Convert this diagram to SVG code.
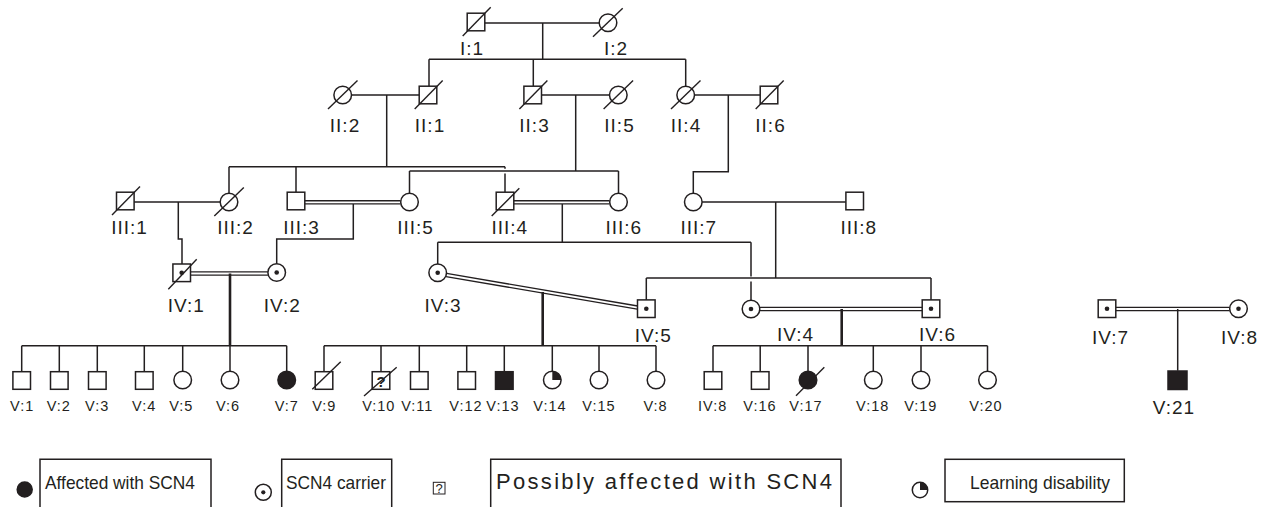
<svg xmlns="http://www.w3.org/2000/svg" width="1261" height="507" viewBox="0 0 1261 507">
<style>
.ln{stroke:#231f20;stroke-width:1.5;fill:none}
.tk{stroke:#231f20;stroke-width:2.6;fill:none}
.dbl{stroke:#231f20;stroke-width:4.6;fill:none}
.dblw{stroke:#fff;stroke-width:1.8;fill:none}
.sh{stroke:#231f20;stroke-width:1.5;fill:#fff}
.af{stroke:#231f20;stroke-width:1.5;fill:#231f20}
.dot{fill:#231f20}
.sl{stroke:#231f20;stroke-width:1.4}
.g{font-family:"Liberation Sans",Arial,sans-serif;font-size:19px;letter-spacing:1px;fill:#231f20;text-anchor:middle}
.v{font-family:"Liberation Sans",Arial,sans-serif;font-size:14.5px;letter-spacing:1px;fill:#231f20;text-anchor:middle}
.lg{font-family:"Liberation Sans",Arial,sans-serif;font-size:19px;fill:#231f20}
</style>
<defs>
<rect id="sq" x="-8.8" y="-8.8" width="17.6" height="17.6"/>
<circle id="ci" r="8.8"/>
</defs>

<g id="connectors">
<path class="ln" d="M485,23H599 M542.7,23V59.3 M429,59.3H685.7 M429,59.3V86 M533.3,59.3V86 M685.7,59.3V86"/>
<path class="ln" d="M351.5,95H419.3 M386.7,95V166.7 M541.5,95H609.5 M575.7,95V171 M694.5,95H760.3 M728.3,95V171.7H693.3V193"/>
<path class="ln" d="M229,166.7H505 M229,166.7V193 M296,166.7V192.3 M505,166.7V168.8 M505,173.4V192.3"/>
<path class="ln" d="M409.5,171H618.5 M409.5,171V193 M618.5,171V193"/>
<path class="ln" d="M134,202H220 M178.3,202V239H182V264"/>
<line class="dbl" x1="304.8" y1="202.3" x2="400.7" y2="202.3"/><line class="dblw" x1="304.8" y1="202.3" x2="400.7" y2="202.3"/>
<path class="ln" d="M353.3,204V239H276.7V263.7"/>
<line class="dbl" x1="513.8" y1="202.3" x2="609.7" y2="202.3"/><line class="dblw" x1="513.8" y1="202.3" x2="609.7" y2="202.3"/>
<path class="ln" d="M562.3,204V242.3 M437.7,242.3H751 M437.7,242.3V263.9 M751,242.3V276.5 M751,281.5V300.2"/>
<path class="ln" d="M702.1,202H845.9 M775.7,202V278 M646.3,278H931 M646.3,278V299.9 M931,278V299.9"/>
<line class="dbl" x1="190.5" y1="273.5" x2="267.9" y2="273.5"/><line class="dblw" x1="190.5" y1="273.5" x2="267.9" y2="273.5"/>
<path class="tk" d="M230,273.5V345.7"/>
<line class="dbl" x1="446.3" y1="275" x2="637.5" y2="307.6"/><line class="dblw" x1="446.3" y1="275" x2="637.5" y2="307.6"/>
<path class="tk" d="M542.7,292V345.7"/>
<line class="dbl" x1="759.8" y1="309" x2="922.2" y2="309"/><line class="dblw" x1="759.8" y1="309" x2="922.2" y2="309"/>
<path class="tk" d="M841.7,309V345.7"/>
<line class="dbl" x1="1115.8" y1="309" x2="1229.7" y2="309"/><line class="dblw" x1="1115.8" y1="309" x2="1229.7" y2="309"/>
<path class="ln" d="M1177.7,309V370.7"/>
<path class="ln" d="M21.7,345.7H286.7 M21.7,345.7V371.2 M59.3,345.7V371.2 M97.3,345.7V371.2 M144.3,345.7V371.2 M182.7,345.7V371.2 M230,345.7V371.2 M286.7,345.7V371.2"/>
<path class="ln" d="M324,345.7H656 M324,345.7V371.2 M381,345.7V371.2 M419.3,345.7V371.2 M466.7,345.7V371.2 M504.3,345.7V371.2 M552.3,345.7V371.2 M599,345.7V371.2 M656,345.7V371.2"/>
<path class="ln" d="M713,345.7H987.5 M713,345.7V371.2 M760.2,345.7V371.2 M808,345.7V371.2 M873.3,345.7V371.2 M921,345.7V371.2 M987.5,345.7V371.2"/>
</g>

<g id="I1"><use href="#sq" class="sh" x="476" y="22"/><line class="sl" x1="462.7" y1="36" x2="490.7" y2="7.3"/><text class="g" x="472" y="55">I:1</text></g>
<g id="I2"><use href="#ci" class="sh" x="608" y="22.7"/><line class="sl" x1="593" y1="36.7" x2="622.7" y2="8.3"/><text class="g" x="616" y="55">I:2</text></g>

<g id="II2"><use href="#ci" class="sh" x="342.7" y="95"/><line class="sl" x1="328" y1="109" x2="357.5" y2="80.5"/><text class="g" x="345" y="132">II:2</text></g>
<g id="II1"><use href="#sq" class="sh" x="428" y="95"/><line class="sl" x1="414.7" y1="109" x2="442.7" y2="80.5"/><text class="g" x="430" y="132">II:1</text></g>
<g id="II3"><use href="#sq" class="sh" x="532.7" y="95"/><line class="sl" x1="519.4" y1="109" x2="547.4" y2="80.5"/><text class="g" x="534.5" y="132">II:3</text></g>
<g id="II5"><use href="#ci" class="sh" x="618.3" y="95"/><line class="sl" x1="603.6" y1="109" x2="633.1" y2="80.5"/><text class="g" x="619.5" y="132">II:5</text></g>
<g id="II4"><use href="#ci" class="sh" x="685.7" y="95"/><line class="sl" x1="671" y1="109" x2="700.5" y2="80.5"/><text class="g" x="686" y="132">II:4</text></g>
<g id="II6"><use href="#sq" class="sh" x="769" y="95"/><line class="sl" x1="755.7" y1="109" x2="783.7" y2="80.5"/><text class="g" x="770.5" y="132">II:6</text></g>

<g id="III1"><use href="#sq" class="sh" x="125.3" y="201"/><line class="sl" x1="112" y1="215" x2="140" y2="186.5"/><text class="g" x="129.5" y="234">III:1</text></g>
<g id="III2"><use href="#ci" class="sh" x="229" y="202"/><line class="sl" x1="214.3" y1="216" x2="243.8" y2="187.5"/><text class="g" x="235.5" y="234">III:2</text></g>
<g id="III3"><use href="#sq" class="sh" x="296" y="201"/><text class="g" x="301.5" y="234">III:3</text></g>
<g id="III5"><use href="#ci" class="sh" x="409.5" y="202"/><text class="g" x="415.5" y="234">III:5</text></g>
<g id="III4"><use href="#sq" class="sh" x="505" y="201"/><line class="sl" x1="491.7" y1="216" x2="519.3" y2="188.3"/><text class="g" x="509.8" y="234">III:4</text></g>
<g id="III6"><use href="#ci" class="sh" x="618.5" y="202"/><text class="g" x="623.8" y="234">III:6</text></g>
<g id="III7"><use href="#ci" class="sh" x="693.3" y="202"/><text class="g" x="698.8" y="234">III:7</text></g>
<g id="III8"><use href="#sq" class="sh" x="854.7" y="201"/><text class="g" x="858.8" y="234">III:8</text></g>

<g id="IV1"><use href="#sq" class="sh" x="181.7" y="272.8"/><circle class="dot" cx="181.7" cy="272.8" r="2.3"/><line class="sl" x1="168.3" y1="289.3" x2="196.7" y2="259.3"/><text class="g" x="186.3" y="312">IV:1</text></g>
<g id="IV2"><use href="#ci" class="sh" x="276.7" y="272.5"/><circle class="dot" cx="276.7" cy="272.5" r="2.3"/><text class="g" x="282.2" y="312">IV:2</text></g>
<g id="IV3"><use href="#ci" class="sh" x="437.7" y="272.7"/><circle class="dot" cx="437.7" cy="272.7" r="2.3"/><text class="g" x="443" y="312">IV:3</text></g>
<g id="IV5"><use href="#sq" class="sh" x="646.3" y="308.7"/><circle class="dot" cx="646.3" cy="308.7" r="2.3"/><text class="g" x="653.3" y="341.5">IV:5</text></g>
<g id="IV4"><use href="#ci" class="sh" x="751" y="309"/><circle class="dot" cx="751" cy="309" r="2.3"/><text class="g" x="795.5" y="341">IV:4</text></g>
<g id="IV6"><use href="#sq" class="sh" x="931" y="308.7"/><circle class="dot" cx="931" cy="308.7" r="2.3"/><text class="g" x="937.5" y="341">IV:6</text></g>
<g id="IV7"><use href="#sq" class="sh" x="1107" y="308.7"/><circle class="dot" cx="1107" cy="308.7" r="2.3"/><text class="g" x="1110.5" y="344">IV:7</text></g>
<g id="IV8"><use href="#ci" class="sh" x="1238.5" y="308.7"/><circle class="dot" cx="1238.5" cy="308.7" r="2.3"/><text class="g" x="1239.5" y="344">IV:8</text></g>

<g id="V1"><use href="#sq" class="sh" x="21.7" y="380.5"/><text class="v" x="22.2" y="411">V:1</text></g>
<g id="V2"><use href="#sq" class="sh" x="59.3" y="380.5"/><text class="v" x="58.8" y="411">V:2</text></g>
<g id="V3"><use href="#sq" class="sh" x="97.3" y="380.5"/><text class="v" x="97.2" y="411">V:3</text></g>
<g id="V4"><use href="#sq" class="sh" x="144.3" y="380.5"/><text class="v" x="144.2" y="411">V:4</text></g>
<g id="V5"><use href="#ci" class="sh" x="182.7" y="380"/><text class="v" x="181.3" y="411">V:5</text></g>
<g id="V6"><use href="#ci" class="sh" x="230" y="380"/><text class="v" x="228" y="411">V:6</text></g>
<g id="V7"><use href="#ci" class="af" x="286.7" y="380"/><text class="v" x="286.8" y="411">V:7</text></g>

<g id="V9"><use href="#sq" class="sh" x="324" y="380.5"/><line class="sl" x1="312.3" y1="389.3" x2="340.7" y2="361.7"/><text class="v" x="324.3" y="411">V:9</text></g>
<g id="V10"><use href="#sq" class="sh" x="381" y="380.5"/><text x="381" y="386.5" style="font-family:'Liberation Sans',Arial,sans-serif;font-size:15px;font-weight:bold;fill:#231f20;text-anchor:middle">?</text><line class="sl" x1="364" y1="396" x2="396.7" y2="367.3"/><text class="v" x="378.8" y="411">V:10</text></g>
<g id="V11"><use href="#sq" class="sh" x="419.3" y="380.5"/><text class="v" x="417.3" y="411">V:11</text></g>
<g id="V12"><use href="#sq" class="sh" x="466.7" y="380.5"/><text class="v" x="466" y="411">V:12</text></g>
<g id="V13"><use href="#sq" class="af" x="504.3" y="380.5"/><text class="v" x="503" y="411">V:13</text></g>
<g id="V14"><use href="#ci" class="sh" x="552.3" y="380"/><path class="dot" d="M552.3,380V371.2A8.8,8.8 0 0 1 561.1,380Z"/><text class="v" x="550" y="411">V:14</text></g>
<g id="V15"><use href="#ci" class="sh" x="599" y="380"/><text class="v" x="599" y="411">V:15</text></g>
<g id="V8"><use href="#ci" class="sh" x="656" y="380"/><text class="v" x="655.5" y="411">V:8</text></g>

<g id="IV8b"><use href="#sq" class="sh" x="713" y="380.5"/><text class="v" x="712.7" y="411">IV:8</text></g>
<g id="V16"><use href="#sq" class="sh" x="760.2" y="380.5"/><text class="v" x="760" y="411">V:16</text></g>
<g id="V17"><use href="#ci" class="af" x="808" y="380"/><line class="sl" x1="796" y1="395.7" x2="824.3" y2="367.3"/><text class="v" x="806" y="411">V:17</text></g>
<g id="V18"><use href="#ci" class="sh" x="873.3" y="380"/><text class="v" x="872.7" y="411">V:18</text></g>
<g id="V19"><use href="#ci" class="sh" x="921" y="380"/><text class="v" x="920.8" y="411">V:19</text></g>
<g id="V20"><use href="#ci" class="sh" x="987.5" y="380"/><text class="v" x="986" y="411">V:20</text></g>

<g id="V21"><rect class="af" x="1168" y="371" width="19" height="18.5"/><text class="g" x="1174" y="414">V:21</text></g>

<g id="legend-affected">
<circle class="af" cx="24.7" cy="489.5" r="7.5"/>
<path class="ln" d="M40,508V459.3H211V508"/>
<text class="lg" x="45" y="489" textLength="150" lengthAdjust="spacingAndGlyphs">Affected with SCN4</text>
</g>
<g id="legend-carrier">
<circle class="sh" cx="263.3" cy="492.3" r="8"/><circle class="dot" cx="263.3" cy="492.3" r="2.1"/>
<path class="ln" d="M281.7,508V459.3H391.7V508"/>
<text class="lg" x="286" y="489" textLength="100" lengthAdjust="spacingAndGlyphs">SCN4 carrier</text>
</g>
<g id="legend-possible">
<rect class="sh" x="433.3" y="482.3" width="11.7" height="11.7" style="stroke-width:1"/>
<text x="439.2" y="492.8" style="font-family:'Liberation Sans',Arial,sans-serif;font-size:13px;fill:#231f20;text-anchor:middle">?</text>
<path class="ln" d="M490.7,508V459.3H841V508"/>
<text class="lg" x="496" y="489" textLength="336" lengthAdjust="spacing" style="font-size:22px">Possibly affected with SCN4</text>
</g>
<g id="legend-learning">
<circle class="sh" cx="920" cy="490" r="7.7"/><path class="dot" d="M920,490V482.3A7.7,7.7 0 0 1 927.7,490Z"/>
<rect class="ln" x="945" y="459.3" width="179.3" height="42.4"/>
<text class="lg" x="970" y="489" textLength="140" lengthAdjust="spacingAndGlyphs">Learning disability</text>
</g>
</svg>
